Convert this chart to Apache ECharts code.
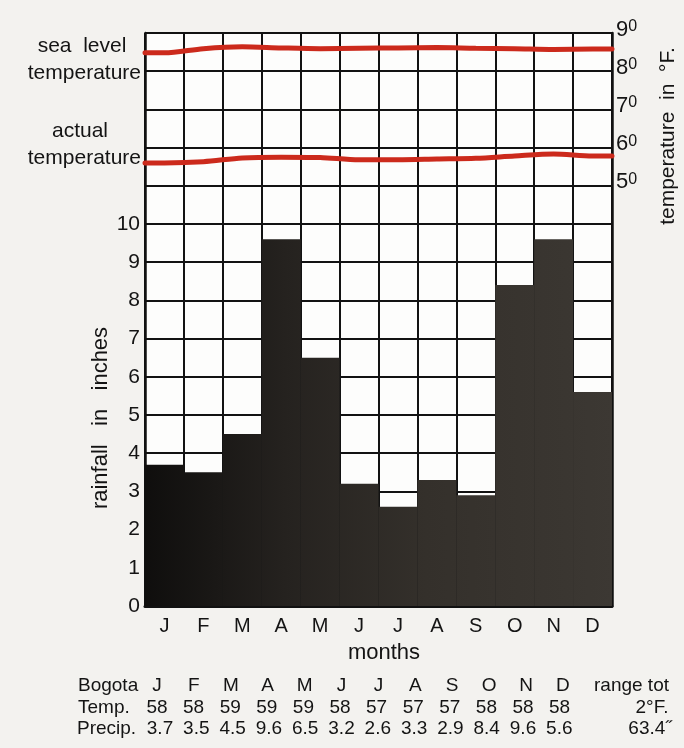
<!DOCTYPE html>
<html><head><meta charset="utf-8">
<script src="https://cdn.jsdelivr.net/npm/echarts@6/dist/echarts.min.js"></script>
<style>html,body{margin:0;padding:0;background:#f3f2ef}#c{width:684px;height:748px}</style>
</head><body><div id="c"></div>
<script>
// ---- data ----
const months = ['J','F','M','A','M','J','J','A','S','O','N','D'];
const rainfall = [3.7,3.5,4.5,9.6,6.5,3.2,2.6,3.3,2.9,8.4,9.6,5.6];
const seaLevelTemp = [84.8,85.9,86.4,86.1,85.9,86.0,86.1,86.2,86.0,85.9,85.7,85.8];
const actualTemp = [56.0,56.3,57.3,57.5,57.4,56.8,56.8,57.0,57.2,57.8,58.3,57.8];
const rainTicks = [0,1,2,3,4,5,6,7,8,9,10];
const tempTicks = [50,60,70,80,90];
const tableHeader = 'Bogota';
const tableMonths = ['J','F','M','A','M','J','J','A','S','O','N','D'];
const tableTemp = ['58','58','59','59','59','58','57','57','57','58','58','58'];
const tablePrecip = ['3.7','3.5','4.5','9.6','6.5','3.2','2.6','3.3','2.9','8.4','9.6','5.6'];
const tableTotals = ['range tot','2°F.','63.4˝'];

// ---- chart ----
const FONT = '"Liberation Sans", Arial, Helvetica, sans-serif';
const INK = '#141414';
const chart = echarts.init(document.getElementById('c'), null, {renderer:'canvas'});

function lineData(arr){
  const d = [[0, arr[0]]];
  arr.forEach((v,i)=>d.push([i+0.5, v]));
  d.push([12, arr[arr.length-1]]);
  return d;
}

const graphics = [];
function txt(x,y,text,opt){
  graphics.push(Object.assign({type:'text', x:x, y:y, style:Object.assign({text:text, font:'20px '+FONT, fill:INK, align:'center', verticalAlign:'middle'}, opt||{})}));
}
function rtxt(x,y,text,size){
  graphics.push({type:'text', x:x, y:y, rotation:Math.PI/2, style:{text:text, font:size+'px '+FONT, fill:INK, align:'center', verticalAlign:'middle'}});
}
// left labels
txt(82,46,'sea  level',{font:'21px '+FONT});
txt(141,73,'temperature',{font:'21px '+FONT, align:'right'});
txt(80,131,'actual',{font:'21px '+FONT});
txt(141,158,'temperature',{font:'21px '+FONT, align:'right'});
// rotated axis titles
rtxt(101,418,'rainfall   in   inches',22);
rtxt(668,136,'temperature  in  °F.',21);
// x title
txt(384,653,'months',{font:'22px '+FONT});
// table
const rows = [686,708,729];
txt(78,rows[0],tableHeader,{font:'19px '+FONT, align:'left'});
txt(78,rows[1],'Temp.',{font:'19px '+FONT, align:'left'});
txt(77,rows[2],'Precip.',{font:'19px '+FONT, align:'left'});
tableMonths.forEach((m,i)=>txt(157+i*36.9,rows[0],m,{font:'19px '+FONT}));
tableTemp.forEach((m,i)=>txt(157+i*36.6,rows[1],m,{font:'19px '+FONT}));
tablePrecip.forEach((m,i)=>txt(160+i*36.3,rows[2],m,{font:'19px '+FONT}));
txt(594,rows[0],tableTotals[0],{font:'19px '+FONT, align:'left'});
txt(652,rows[1],tableTotals[1],{font:'19px '+FONT});
txt(650,rows[2],tableTotals[2],{font:'19px '+FONT});

const gridLine = {show:true, lineStyle:{color:'#121212', width:2}};

chart.setOption({
  animation:false,
  backgroundColor:'#f3f2ef',
  grid:{left:145, right:72, top:33, bottom:142, show:true, backgroundColor:'#fdfdfc', borderWidth:0},
  xAxis:[
    {type:'category', data:months, boundaryGap:true,
     axisLine:{show:true, lineStyle:{color:'#111', width:3}}, axisTick:{show:false},
     splitLine:Object.assign({interval:0}, gridLine),
     axisLabel:{interval:0, margin:10, fontSize:20, color:INK, fontFamily:FONT}},
    {type:'value', min:0, max:12, show:false}
  ],
  yAxis:[
    {type:'value', min:0, max:15, interval:1, position:'left',
     axisLine:{show:true, lineStyle:{color:'#111', width:2.5}}, axisTick:{show:false},
     splitLine:gridLine,
     axisLabel:{margin:5, fontSize:21, color:INK, fontFamily:FONT,
       formatter:v=>rainTicks.includes(v)?String(v):''}},
    {type:'value', min:-60, max:90, interval:10, position:'right',
     axisLine:{show:true, lineStyle:{color:'#111', width:2.5}}, axisTick:{show:false},
     splitLine:{show:false},
     axisLabel:{margin:4, color:INK, fontFamily:FONT, padding:[0,0,7,0],
       formatter:v=>tempTicks.includes(v)?('{n|'+(v/10)+'}{s|0}'):'',
       rich:{n:{fontSize:22, lineHeight:22, fontFamily:FONT, color:INK},
             s:{fontSize:16, lineHeight:22, verticalAlign:'top', fontFamily:FONT, color:INK}}}}
  ],
  series:[
    {type:'bar', data:rainfall, xAxisIndex:0, yAxisIndex:0, barCategoryGap:'0%', barGap:'0%',
     itemStyle:{color:{type:'linear', x:145, y:0, x2:612, y2:0, global:true,
       colorStops:[{offset:0,color:'#0f0e0d'},{offset:0.3,color:'#25221f'},{offset:0.6,color:'#34302b'},{offset:1,color:'#3c3833'}]}},
     z:3},
    {type:'line', data:lineData(seaLevelTemp), xAxisIndex:1, yAxisIndex:1, smooth:0.3, symbol:'none',
     lineStyle:{color:'#cc2a1c', width:5, cap:'round'}, z:4},
    {type:'line', data:lineData(actualTemp), xAxisIndex:1, yAxisIndex:1, smooth:0.3, symbol:'none',
     lineStyle:{color:'#cc2a1c', width:5, cap:'round'}, z:4}
  ],
  graphic:graphics
});
</script></body></html>
